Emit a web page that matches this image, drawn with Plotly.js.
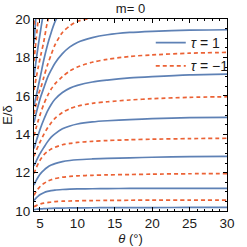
<!DOCTYPE html>
<html><head><meta charset="utf-8">
<script src="https://cdn.plot.ly/plotly-3.0.1.min.js"></script>
<style>html,body{margin:0;padding:0;background:#fff}#chart{width:247px;height:247px}</style>
</head><body><div id="chart"></div>
<script>
// theta grid (degrees)
const theta = [4.2, 4.5, 4.8, 5.1, 5.5, 6, 6.5, 7, 8, 9, 10, 12, 14, 17, 20, 25, 30];
// tau = 1 branches (E/delta)
const blue1 = [10.07,10.09,10.10,10.11,10.12,10.13,10.14,10.145,10.15,10.16,10.165,10.17,10.175,10.18,10.18,10.185,10.19];
const blue2 = [10.55,10.68,10.79,10.87,10.95,11.02,11.06,11.09,11.12,11.14,11.15,11.16,11.17,11.175,11.18,11.18,11.18];
const blue3 = [11.35,11.60,11.80,11.96,12.12,12.28,12.39,12.47,12.57,12.63,12.67,12.71,12.74,12.77,12.80,12.83,12.85];
const blue4 = [12.35,12.60,12.85,13.05,13.30,13.60,13.85,14.02,14.28,14.43,14.53,14.64,14.70,14.76,14.81,14.86,14.88];
const blue5 = [13.25,13.65,14.00,14.35,14.75,15.20,15.55,15.82,16.17,16.40,16.54,16.72,16.82,16.93,17.00,17.09,17.13];
const blue6 = [14.60,15.10,15.55,15.95,16.40,16.95,17.35,17.70,18.20,18.55,18.78,19.03,19.18,19.30,19.36,19.42,19.44];
const blue7 = [15.50,16.00,16.55,17.10,17.85,18.65,19.30,19.85,20.50,20.90,21.15,21.45,21.60,21.75,21.80,21.85,21.90];
const blue8 = [17.00,17.90,18.70,19.45,20.40,21.40,22.20,22.80,23.70,24.30,24.70,25.20,25.50,25.70,25.80,25.90,25.95];
const blue9 = [18.70,20.40,21.70,22.90,24.20,25.60,26.60,27.40,28.50,29.20,29.60,30.10,30.40,30.60,30.70,30.80,30.85];
// tau = -1 branches (E/delta)
const red1 = [10.22,10.28,10.33,10.37,10.41,10.44,10.47,10.49,10.51,10.52,10.53,10.545,10.55,10.56,10.565,10.57,10.57];
const red2 = [10.82,11.02,11.18,11.31,11.43,11.55,11.63,11.69,11.76,11.80,11.83,11.86,11.88,11.90,11.92,11.94,11.95];
const red3 = [11.95,12.25,12.50,12.70,12.92,13.10,13.23,13.32,13.45,13.52,13.57,13.63,13.67,13.71,13.74,13.77,13.79];
const red4 = [12.85,13.15,13.42,13.67,13.98,14.32,14.60,14.82,15.13,15.33,15.46,15.61,15.69,15.78,15.85,15.92,15.95];
const red5 = [13.90,14.35,14.75,15.12,15.55,16.00,16.35,16.62,17.00,17.30,17.50,17.75,17.90,18.05,18.13,18.22,18.26];
const red6 = [15.05,15.60,16.10,16.40,16.95,17.60,18.15,18.65,19.30,19.65,19.88,20.05,20.20,20.35,20.45,20.55,20.60];
const red7 = [16.30,16.95,17.55,18.10,18.80,19.85,20.50,21.00,21.80,22.30,22.60,23.00,23.20,23.35,23.45,23.50,23.55];
const red8 = [17.80,19.00,20.10,21.00,22.10,23.30,24.30,25.00,26.20,26.90,27.30,27.80,28.10,28.30,28.40,28.45,28.50];
const red9 = [19.70,21.80,23.40,24.80,26.30,27.80,29.00,29.90,31.20,32.00,32.50,33.00,33.30,33.50,33.60,33.70,33.75];

const blueCurves = [blue1, blue2, blue3, blue4, blue5, blue6, blue7, blue8, blue9];
const redCurves = [red1, red2, red3, red4, red5, red6, red7, red8, red9];
const legendLabels = ['<i>τ</i> = 1', '<i>τ</i> = −1'];
const xTicks = [5, 10, 15, 20, 25, 30];
const yTicks = [10, 12, 14, 16, 18, 20];

const BLUE = '#5E81B5', RED = '#EB6235';
const traces = [];
blueCurves.forEach((ys, i) => traces.push({
  x: theta, y: ys, type: 'scatter', mode: 'lines',
  line: {color: BLUE, width: 1.7, shape: 'spline', smoothing: 0.8},
  name: legendLabels[0], legendgroup: 'b', showlegend: i === 0, hoverinfo: 'skip'
}));
redCurves.forEach((ys, i) => traces.push({
  x: theta, y: ys, type: 'scatter', mode: 'lines',
  line: {color: RED, width: 1.7, dash: '4px,3px', shape: 'spline', smoothing: 0.8},
  name: legendLabels[1], legendgroup: 'r', showlegend: i === 0, hoverinfo: 'skip'
}));

const FONT = 'Liberation Sans, Arial, sans-serif';
const layout = {
  width: 247, height: 247,
  margin: {l: 34, r: 20, t: 19, b: 36, pad: 0},
  paper_bgcolor: '#fff', plot_bgcolor: '#fff',
  font: {family: FONT, size: 13, color: '#1a1a1a'},
  title: {text: 'm= 0', font: {family: FONT, size: 13, color: '#1a1a1a'}, xref: 'paper', x: 0.5, xanchor: 'center', yref: 'container', y: 0.965, yanchor: 'middle'},
  xaxis: {range: [4.2, 30], tickvals: xTicks, ticks: 'inside', ticklen: 4, tickcolor: '#000',
    showline: true, linecolor: '#000', linewidth: 1, mirror: 'ticks', showgrid: false, zeroline: false,
    minor: {ticks: 'inside', ticklen: 2, dtick: 1, tickcolor: '#000', showgrid: false},
    tickfont: {size: 13.5}, title: {text: '<i>θ</i> (°)', font: {size: 13}, standoff: 2}},
  yaxis: {range: [10, 20], tickvals: yTicks, ticks: 'inside', ticklen: 4, tickcolor: '#000',
    showline: true, linecolor: '#000', linewidth: 1, mirror: 'ticks', showgrid: false, zeroline: false,
    minor: {ticks: 'inside', ticklen: 2, dtick: 0.5, tickcolor: '#000', showgrid: false},
    tickfont: {size: 13.5}, title: {text: 'E/δ', font: {size: 13}, standoff: 4}},
  showlegend: true,
  legend: {x: 0.605, y: 0.958, xanchor: 'left', yanchor: 'top', bgcolor: 'rgba(0,0,0,0)',
    font: {size: 14}, tracegroupgap: 2, itemwidth: 30}
};
Plotly.newPlot('chart', traces, layout, {staticPlot: true, displayModeBar: false});
</script></body></html>
